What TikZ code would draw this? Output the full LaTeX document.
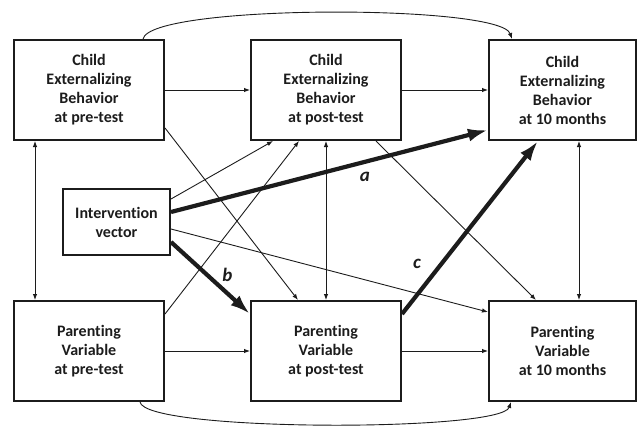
\documentclass[tikz,border=0pt]{standalone}
\usepackage{fontspec}
\setmainfont{Carlito}[Ligatures=NoCommon]
\usepackage{tikz}
\usetikzlibrary{arrows.meta,calc}
\definecolor{ink} {RGB} {28, 28, 28}
\tikzstyle{var}=[
  rectangle, draw=ink, line width=2pt, align=center, text=ink, inner sep=0pt,
  minimum width=150pt, minimum height=100pt, font=\fontsize{16}{19}\selectfont\bfseries
]
\tikzstyle{link}=[draw=ink, line width=0.9pt, -{Latex[length=6pt,width=4.5pt]}]
\tikzstyle{both}=[draw=ink, line width=0.9pt, {Latex[length=6pt,width=4.5pt]}-{Latex[length=6pt,width=4.5pt]}]
\tikzstyle{effect}=[draw=ink, line width=4.2pt, -{Latex[length=20pt,width=13pt]}]
\tikzstyle{lbl}=[text=ink, font=\fontsize{19}{22}\selectfont\bfseries\itshape]

\begin{document}
\begin{tikzpicture}[x=1pt, y=-1pt]
  \useasboundingbox (0,0) rectangle (638,428);
  % variables
  \node[var] (cpre) at (89,90) {Child\\Externalizing\\Behavior\\at pre-test};
  \node[var] (cpost) at (326,90) {Child\\Externalizing\\Behavior\\at post-test};
  \node[var, minimum width=147pt] (cten) at (562.5,90) {Child\\Externalizing\\Behavior\\at 10 months};
  \node[var, minimum width=107pt, minimum height=66pt] (iv) at (116.5,222) {Intervention\\vector};
  \node[var] (ppre) at (89,351) {Parenting\\Variable\\at pre-test};
  \node[var] (ppost) at (326,351) {Parenting\\Variable\\at post-test};
  \node[var, minimum width=147pt] (pten) at (562.5,351) {Parenting\\Variable\\at 10 months};
  % stability and covariances
  \draw[link] (cpre) -- (cpost);
  \draw[link] (cpost) -- (cten);
  \draw[link] (ppre) -- (ppost);
  \draw[link] (ppost) -- (pten);
  \draw[both] ([xshift=-54pt]cpre.south) -- ([xshift=-54pt]ppre.north);
  \draw[both] (cpost) -- (ppost);
  \draw[both] ([xshift=16.5pt]cten.south) -- ([xshift=16.5pt]pten.north);
  \draw[link] ([xshift=54pt]cpre.north) .. controls +(7,-35) and +(-12,-35) .. ([xshift=-50.5pt]cten.north);
  \draw[link] ([xshift=51pt]ppre.south) .. controls +(5,30) and +(-10,30) .. ([xshift=-51.5pt]pten.south);
  % cross-lagged paths
  \draw[link] ([yshift=-38pt]cpre.east) -- ([xshift=-28pt]ppost.north);
  \draw[link] ([yshift=37pt]ppre.east) -- ([xshift=-27pt]cpost.south);
  \draw[link] ([xshift=50pt]cpost.south) -- ([xshift=-26.5pt]pten.north);
  \draw[link] ([yshift=23pt]iv.east) -- ([xshift=-53pt]cpost.south);
  \draw[link] ([yshift=-7pt]iv.east) -- ([yshift=39pt]pten.west);
  % mediation paths
  \draw[effect] ([yshift=10pt]iv.east) -- ([yshift=-40pt]cten.west)
    node[lbl, pos=0.6, xshift=3.6pt, yshift=-14pt] (la) {a};
  \draw[effect] ([yshift=-20pt]iv.east) -- ([yshift=37pt]ppost.west)
    node[lbl, pos=0.6, xshift=9pt, yshift=10pt] (lb) {b};
  \draw[effect] ([yshift=37pt]ppost.east) -- ([xshift=-24.5pt]cten.south)
    node[lbl, pos=0.22, xshift=-15pt, yshift=12pt] (lc) {c};
\end{tikzpicture}
\end{document}
